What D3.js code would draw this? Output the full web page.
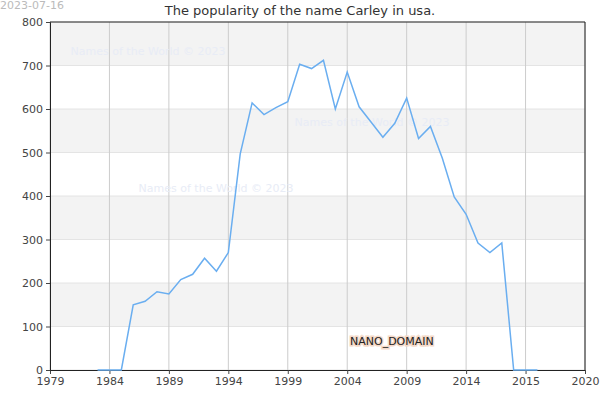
<!DOCTYPE html>
<html><head><meta charset="utf-8">
<script src="https://cdn.jsdelivr.net/npm/d3@7"></script>
<style>body{margin:0;background:#fff}text{font-family:"DejaVu Sans",sans-serif}</style>
</head><body><script>
const w = 600, h = 400;
const years = [1983,1984,1985,1986,1987,1988,1989,1990,1991,1992,1993,1994,1995,1996,1997,1998,1999,2000,2001,2002,2003,2004,2005,2006,2007,2008,2009,2010,2011,2012,2013,2014,2015,2016,2017,2018,2019,2020];
const counts = [0,0,0,150,158,180,175,208,220,257,227,270,497,614,587,603,617,703,693,712,600,685,605,570,535,567,625,532,560,487,398,358,292,270,292,0,0,0];
const tickYears = [1979,1984,1989,1994,1999,2004,2009,2014,2019,2024];
const tickLabels = ['1979','1984','1989','1994','1999','2004','2009','2014','2015','2020'];
const yTicks = [0,100,200,300,400,500,600,700,800];

const m = {l:50, r:15, t:22, b:30};
const x = d3.scaleLinear().domain([1979,2024]).range([m.l, w-m.r]);
const y = d3.scaleLinear().domain([0,800]).range([h-m.b, m.t]);

const svg = d3.select('body').append('svg').attr('width', w).attr('height', h);

// bands
svg.selectAll('rect.band').data([100,300,500,700]).enter().append('rect')
  .attr('x', m.l).attr('width', w-m.r-m.l)
  .attr('y', d => y(d+100)).attr('height', d => y(d)-y(d+100))
  .attr('fill', '#f3f3f3');
// horizontal grid
svg.selectAll('line.hg').data(yTicks).enter().append('line')
  .attr('x1', m.l).attr('x2', w-m.r).attr('y1', d => y(d)).attr('y2', d => y(d))
  .attr('stroke', '#e4e4e4');
// vertical grid
svg.selectAll('line.vg').data(tickYears).enter().append('line')
  .attr('x1', d => x(d)).attr('x2', d => x(d)).attr('y1', m.t).attr('y2', h-m.b)
  .attr('stroke', '#cccccc');

// watermarks
[[148,55],[372,126],[216,192]].forEach(([px,py]) => {
  svg.append('text').attr('x', px).attr('y', py).attr('text-anchor','middle')
    .attr('font-size', 11).attr('fill', '#e8ecf6').text('Names of the World © 2023');
});

// axes
const xa = svg.append('g').attr('transform', `translate(0,${h-m.b})`)
  .call(d3.axisBottom(x).tickValues(tickYears).tickFormat((d,i) => tickLabels[i]).tickSize(4));
const ya = svg.append('g').attr('transform', `translate(${m.l},0)`)
  .call(d3.axisLeft(y).tickValues(yTicks).tickSize(4));
[xa, ya].forEach(g => {
  g.selectAll('text').attr('font-size', 11).attr('fill', '#444').style('font-family','DejaVu Sans');
  g.selectAll('.tick line').attr('stroke', '#444');
  g.select('.domain').attr('stroke', '#222');
});
svg.append('line').attr('x1', w-m.r).attr('x2', w-m.r).attr('y1', m.t).attr('y2', h-m.b).attr('stroke', '#222');
svg.append('line').attr('x1', m.l).attr('x2', w-m.r).attr('y1', m.t).attr('y2', m.t).attr('stroke', '#222');

// line
svg.append('path').datum(years.map((yr,i) => [yr, counts[i]]))
  .attr('fill', 'none').attr('stroke', '#6aaef0').attr('stroke-width', 1.5)
  .attr('d', d3.line().x(d => x(d[0])).y(d => y(d[1])));

// titles
svg.append('text').attr('x', 300).attr('y', 15).attr('text-anchor','middle')
  .attr('font-size', 13).attr('fill', '#333').text('The popularity of the name Carley in usa.');
svg.append('text').attr('x', 0).attr('y', 9).attr('font-size', 11).attr('fill', '#bbb').text('2023-07-16');
svg.append('text').attr('x', 350).attr('y', 345).attr('font-size', 11).attr('fill', '#222')
  .attr('stroke', '#f4d9c8').attr('stroke-width', 3).attr('paint-order', 'stroke').text('NANO_DOMAIN');
</script></body></html>
